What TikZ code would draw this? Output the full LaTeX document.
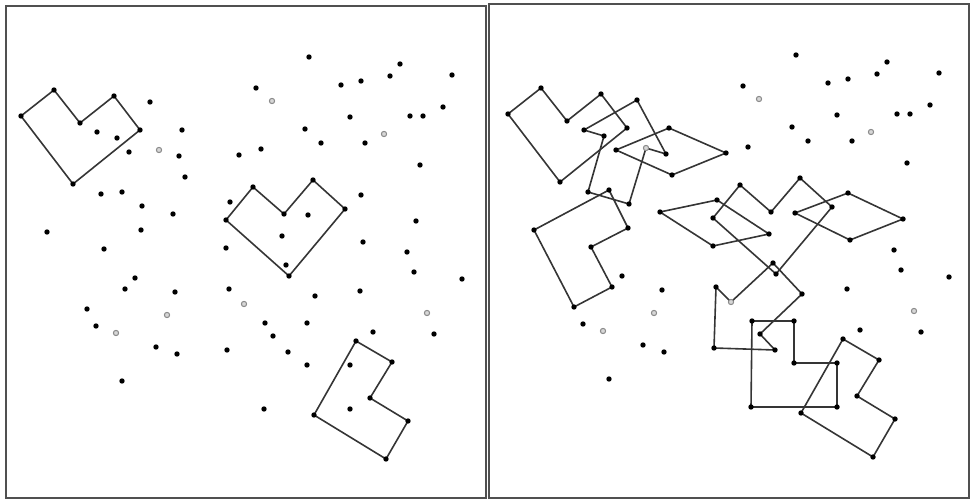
\documentclass[tikz,border=0pt]{standalone}
\usepackage{tikz}
\usepackage{xcolor}
\usetikzlibrary{calc}
\definecolor{pencil}{HTML}{353535}
\definecolor{frame}{HTML}{505050}
\definecolor{faded}{HTML}{8C8C8C}

% dot positions of one sheet (pixels, y downwards)
\def\dotlist{ha1/21/116, ha2/54/90, ha3/80/123, ha4/114/96, ha5/140/130, ha6/73/184,
  hb1/226/220, hb2/253/187, hb3/284/214, hb4/313/180, hb5/345/209, hb6/289/276,
  la1/356/341, la2/392/362, la3/370/398, la4/408/421, la5/386/459, la6/314/415,
  ka1/129/152, ka2/182/130, ka3/239/155, ka4/185/177,
  aa1/150/102, aa2/97/132, aa3/117/138, aa4/101/194, aa5/142/206, aa6/159/150, aa7/179/156,
  lb1/47/232, lb2/122/192, lb3/141/230, lb4/104/249, lb5/125/289, lb6/87/309,
  kb1/173/214, kb2/230/202, kb3/282/236, kb4/226/248,
  kc1/308/215, kc2/361/195, kc3/416/221, kc4/363/242,
  ab1/229/289, ab2/244/304, ab3/286/265, ab4/315/296, ab5/273/336, ab6/288/352, ab7/227/350,
  sa1/265/323, sa2/307/323, sa3/307/365, sa4/350/365, sa5/350/409, sa6/264/409,
  p1/309/57, p2/400/64, p3/390/76, p4/452/75, p5/256/88, p6/341/85, p7/361/81,
  p8/272/101, p9/443/107, p10/350/117, p11/410/116, p12/423/116, p13/305/129,
  p14/384/134, p15/261/149, p16/321/143, p17/365/143, p18/420/165, p19/135/278,
  p20/175/292, p21/167/315, p22/96/326, p23/116/333, p24/156/347, p25/177/354,
  p26/122/381, p27/407/252, p28/414/272, p29/462/279, p30/360/291, p31/427/313,
  p32/373/332, p33/434/334}
\def\greydots{aa6, ab2, p8, p14, p21, p23, p31}

\tikzset{
  sheet/.style={line width=1pt, frame},
  tile/.style={line width=0.8pt, pencil, line join=round},
  pin/.style={fill=black},
  greypin/.style={draw=faded, fill=faded!35, line width=0.5pt}
}

\begin{document}
\begin{tikzpicture}[x=0.5pt, y=-0.5pt]
    \useasboundingbox (0,0) rectangle (970,502);

    % Sheets
    \draw[sheet] (6,6) rectangle (486,498);
    \draw[sheet] (489,4) rectangle (969,498);

    % Left sheet: three pieces
    \begin{scope}[name prefix=l-]
        \foreach \n/\x/\y in \dotlist {
            \coordinate (\n) at (\x,\y);
        }
        \foreach \s/\k in {ha/6, hb/6, la/6} {
            \draw[tile] (\s1) \foreach \i in {2,...,\k} { -- (\s\i) } -- cycle;
        }
        \foreach \n/\x/\y in \dotlist {
            \fill[pin] (\n) circle (1.35pt);
        }
        \foreach \n in \greydots {
            \draw[greypin] (\n) circle (1.3pt);
        }
    \end{scope}

    % Right sheet: same dots, all pieces placed
    \begin{scope}[shift={(487,-2)}, name prefix=r-]
        \foreach \n/\x/\y in \dotlist {
            \coordinate (\n) at (\x,\y);
        }
        \foreach \s/\k in {ha/6, hb/6, la/6, ka/4, aa/7, lb/6, kb/4, kc/4, ab/7, sa/6} {
            \draw[tile] (\s1) \foreach \i in {2,...,\k} { -- (\s\i) } -- cycle;
        }
        \foreach \n/\x/\y in \dotlist {
            \fill[pin] (\n) circle (1.35pt);
        }
        \foreach \n in \greydots {
            \draw[greypin] (\n) circle (1.3pt);
        }
    \end{scope}

\end{tikzpicture}
\end{document}
